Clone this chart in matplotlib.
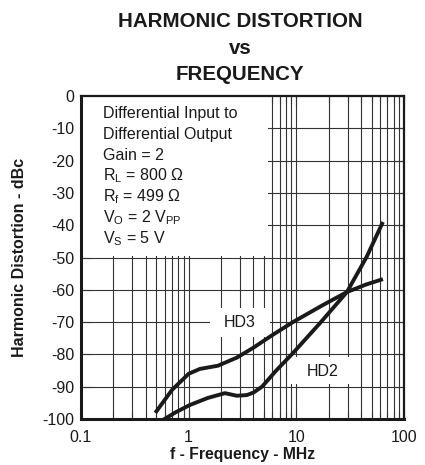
import matplotlib
matplotlib.use("Agg")
import matplotlib.pyplot as plt
import numpy as np

plt.rcParams['font.family'] = ['Liberation Sans', 'DejaVu Sans']

# === data ===
hd3_freq = [0.49, 0.7, 1.0, 1.27, 1.87, 2.8, 3.96, 6.0, 9.3, 17.7, 29.5, 45.0, 63.7]
hd3_dbc = [-98.1, -91.0, -86.0, -84.5, -83.5, -81.0, -78.0, -74.0, -70.0, -64.7, -60.7, -58.3, -56.7]

hd2_freq = [0.577, 0.75, 1.02, 1.5, 2.17, 2.8, 3.47, 4.0, 4.8, 6.5, 9.3, 16.6, 29.5, 45.0, 63.7]
hd2_dbc = [-100.3, -98.0, -95.7, -93.5, -92.0, -92.8, -92.6, -91.8, -90.0, -85.0, -79.6, -70.3, -60.7, -49.8, -39.0]

x_ticks = [0.1, 1, 10, 100]
x_tick_labels = ["0.1", "1", "10", "100"]
y_ticks = list(range(-100, 1, 10))

conditions = ["Differential Input to",
              "Differential Output",
              "Gain = 2",
              r"R$_\mathregular{L}$ = 800 Ω",
              r"R$_\mathregular{f}$ = 499 Ω",
              r"V$_\mathregular{O}$ = 2 V$_\mathregular{PP}$",
              r"V$_\mathregular{S}$ = 5 V"]

GRID = "#333333"
INK = "#1a1a1a"

fig = plt.figure(figsize=(4.25, 4.65), dpi=100)
ax = fig.add_axes([81 / 425, 1 - 419 / 465, 323 / 425, 323 / 465])

ax.set_xscale("log")
ax.set_xlim(0.1, 100)
ax.set_ylim(-100, 0)
ax.set_xticks(x_ticks)
ax.set_xticklabels(x_tick_labels)
ax.set_yticks(y_ticks)
ax.set_yticklabels([str(v) for v in y_ticks])
ax.xaxis.set_minor_formatter(matplotlib.ticker.NullFormatter())

# grid drawn by hand so the white label boxes can sit on top of it
xlocs = list(ax.get_xticks()) + list(ax.get_xticks(minor=True))
for xv in xlocs:
    if 0.1 < xv < 100:
        ax.axvline(xv, color=GRID, linewidth=0.8, zorder=1)
for yv in y_ticks[1:-1]:
    ax.axhline(yv, color=GRID, linewidth=0.8, zorder=1)

# white box behind the test conditions
ax.fill_between([0.1, 5.45], -49.4, 0, color="white", zorder=2, linewidth=0)
# white boxes behind the curve labels
ax.fill_between([1.58, 5.7], -74.6, -65.6, color="white", zorder=2, linewidth=0)
ax.fill_between([8.5, 36.6], -89.2, -80.8, color="white", zorder=2, linewidth=0)

ax.plot(hd3_freq, hd3_dbc, color=INK, linewidth=2.8, solid_capstyle="butt", zorder=5)
ax.plot(hd2_freq, hd2_dbc, color=INK, linewidth=2.8, solid_capstyle="butt", zorder=5)

for i, line in enumerate(conditions):
    ax.text(0.16, -6.9 - i * 6.45, line, fontsize=11.5, va="baseline", ha="left",
            color=INK, zorder=6)

ax.text(3.0, -70.0, "HD3", fontsize=11.5, ha="center", va="center", color=INK, zorder=6)
ax.text(17.7, -85.4, "HD2", fontsize=11.5, ha="center", va="center", color=INK, zorder=6)

ax.tick_params(which="both", direction="in", top=True, right=True, color=GRID, width=0.8)
ax.tick_params(which="major", length=7)
ax.tick_params(which="minor", length=5)
ax.tick_params(axis="y", labelsize=11.5, pad=5, labelcolor=INK)
ax.tick_params(axis="x", labelsize=11.5, pad=8, labelcolor=INK)

ax.spines["left"].set_linewidth(2.2)
ax.spines["bottom"].set_linewidth(2.2)
ax.spines["top"].set_linewidth(1.6)
ax.spines["right"].set_linewidth(1.6)
for side in ax.spines:
    ax.spines[side].set_color(INK)
    ax.spines[side].set_zorder(7)

ax.set_xlabel("f - Frequency - MHz", fontsize=11.3, fontweight="bold", color=INK, labelpad=1)
ax.set_ylabel("Harmonic Distortion - dBc", fontsize=11.5, fontweight="bold", color=INK)
ax.yaxis.set_label_coords((27 - 81) / 323, 0.5)

fig.text(240 / 425, 1 - 21.5 / 465, "HARMONIC DISTORTION", ha="center", va="center",
         fontsize=14.8, fontweight="bold", color=INK)
fig.text(240 / 425, 1 - 48 / 465, "vs", ha="center", va="center",
         fontsize=14.8, fontweight="bold", color=INK)
fig.text(240 / 425, 1 - 75 / 465, "FREQUENCY", ha="center", va="center",
         fontsize=14.8, fontweight="bold", color=INK)

fig.savefig("out.png", dpi=100)
